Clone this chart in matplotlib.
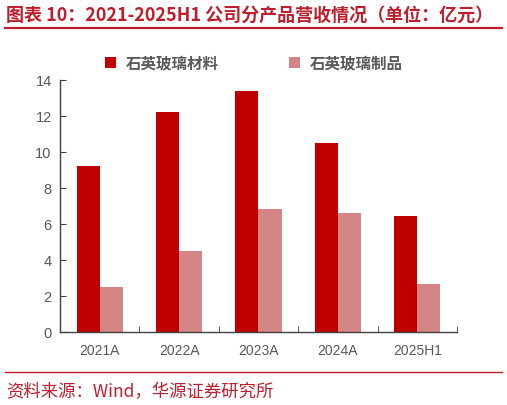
import matplotlib.pyplot as plt
import numpy as np
from matplotlib.lines import Line2D

plt.rcParams['font.family'] = ['Liberation Sans', 'Noto Sans CJK SC', 'DejaVu Sans']

categories = ['2021A', '2022A', '2023A', '2024A', '2025H1']
materials = [9.22, 12.19, 13.36, 10.50, 6.43]
products = [2.48, 4.48, 6.82, 6.58, 2.63]
series_names = ['石英玻璃材料', '石英玻璃制品']
title = '图表 10：2021-2025H1 公司分产品营收情况（单位：亿元）'
source = '资料来源：Wind，华源证券研究所'

red = '#C00000'
pink = '#D48585'
grey = '#595959'
accent = '#BE1E2D'
cjk = ['Noto Sans CJK SC', 'DejaVu Sans']

fig = plt.figure(figsize=(5.07, 4.06), dpi=100)
ax = fig.add_axes([0.1183, 0.1805, 0.7831, 0.6207])

x = np.arange(len(categories))
w = 0.29
ax.bar(x - w / 2, materials, w, color=red, label=series_names[0])
ax.bar(x + w / 2, products, w, color=pink, label=series_names[1])

ax.set_xlim(-0.5, len(categories) - 0.5)
ax.set_ylim(0, 14)
ax.set_yticks(range(0, 15, 2))
ax.set_xticks(x)
ax.set_xticklabels(categories)
ax.set_xticks(np.arange(-0.5, len(categories), 1), minor=True)
ax.tick_params(axis='x', which='major', length=0, pad=8, labelsize=10, labelcolor=grey)
ax.tick_params(axis='x', which='minor', direction='in', length=4, color='#404040')
ax.tick_params(axis='y', direction='in', length=4, pad=6, labelsize=10.5,
               labelcolor=grey, color='#404040')
for s in ['top', 'right']:
  ax.spines[s].set_visible(False)
for s in ['left', 'bottom']:
  ax.spines[s].set_color('#404040')
  ax.spines[s].set_linewidth(1)

leg = fig.legend(loc='center', bbox_to_anchor=(0.5, 0.843), ncol=2, frameon=False,
                 handlelength=0.75, handleheight=0.75, handletextpad=0.6,
                 columnspacing=4.5, prop={'family': cjk, 'size': 11.2, 'weight': 'bold'})
for t in leg.get_texts():
  t.set_color(grey)

fig.text(0.012, 0.963, title, family=cjk, fontsize=13, fontweight='bold',
         color=accent, ha='left', va='center')
fig.add_artist(Line2D([0.01, 0.99], [0.9286, 0.9286], color=accent, lw=1.6))
fig.add_artist(Line2D([0.01, 0.99], [0.0813, 0.0813], color=accent, lw=1.0))
fig.text(0.012, 0.034, source, family=cjk, fontsize=12.5, color=accent,
         ha='left', va='center')

fig.savefig('out.png', dpi=100)
